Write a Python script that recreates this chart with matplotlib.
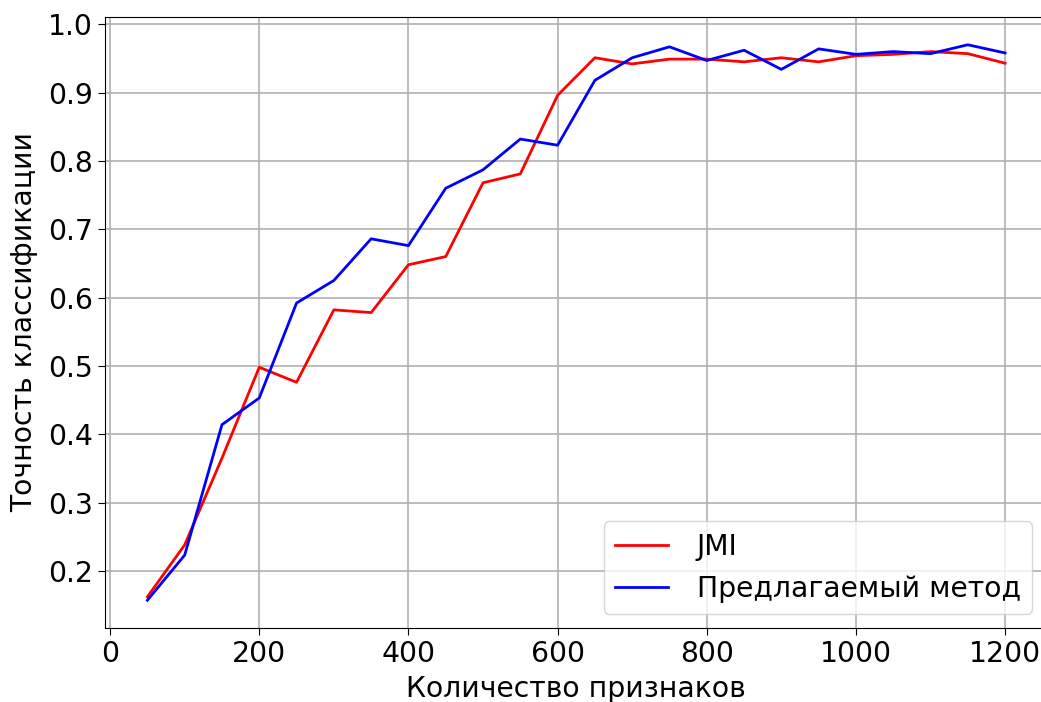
import matplotlib
matplotlib.use("Agg")
import matplotlib.pyplot as plt
import numpy as np

# number of features
n_features = np.arange(50, 1201, 50)

jmi_acc = [0.162, 0.238, 0.365, 0.498, 0.476, 0.582, 0.578, 0.648, 0.660, 0.768,
           0.781, 0.896, 0.951, 0.942, 0.949, 0.949, 0.945, 0.951, 0.945, 0.954,
           0.956, 0.960, 0.957, 0.943]

proposed_acc = [0.157, 0.223, 0.414, 0.453, 0.592, 0.625, 0.686, 0.676, 0.760, 0.787,
                0.832, 0.823, 0.918, 0.951, 0.967, 0.947, 0.962, 0.934, 0.964, 0.956,
                0.960, 0.957, 0.970, 0.958]

labels = ["JMI", "Предлагаемый метод"]

plt.rcParams["font.family"] = "DejaVu Sans"
FS = 20.3

fig = plt.figure(figsize=(10.41, 7.02), dpi=100)
ax = fig.add_axes([104.5 / 1041, 74 / 702, 943.5 / 1041, 611 / 702])

ax.plot(n_features, jmi_acc, color="red", linewidth=2, label=labels[0])
ax.plot(n_features, proposed_acc, color="blue", linewidth=2, label=labels[1])

ax.grid(True, color="#b0b0b0", linewidth=1.2)
ax.spines["right"].set_visible(False)
ax.set_xticks([0, 200, 400, 600, 800, 1000, 1200])
ax.set_yticks([0.2, 0.3, 0.4, 0.5, 0.6, 0.7, 0.8, 0.9, 1.0])
ax.tick_params(labelsize=FS, length=5)
ax.set_xlabel("Количество признаков", fontsize=FS, labelpad=5)
ax.set_ylabel("Точность классификации", fontsize=FS, labelpad=7)
ax.legend(loc="lower right", fontsize=FS, bbox_to_anchor=(0.998, 0.0),
          handlelength=1.9, handletextpad=1.0)

fig.savefig("out.png", dpi=100)
